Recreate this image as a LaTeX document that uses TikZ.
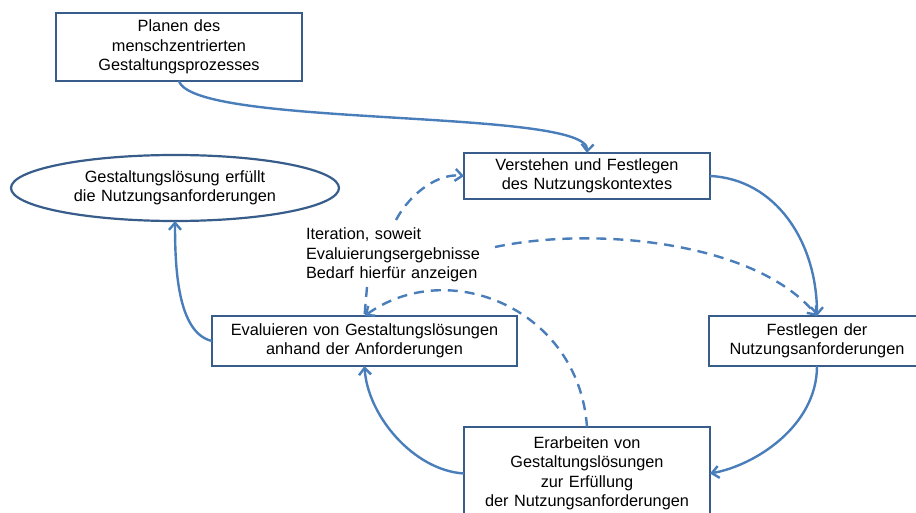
\documentclass[tikz,border=0pt]{standalone}
\usepackage{fontspec}
\setmainfont{Liberation Sans}
\usetikzlibrary{arrows.meta,shapes.geometric,calc}
\definecolor{boxline}{HTML}{385D8A}
\definecolor{arrowline}{HTML}{4A7EBB}
\newcommand\diagfont{\fontsize{16.3}{19.5}\selectfont\spaceskip=5.5pt plus 1pt\relax}
\begin{document}
\begin{tikzpicture}[x=1pt,y=-1pt,
  every node/.style={font=\diagfont, inner sep=0pt, outer sep=0pt},
  procbox/.style={draw=boxline, line width=2.2pt, fill=white, align=center},
  flow/.style={draw=arrowline, line width=2.4pt, -{Straight Barb[length=7pt,width=12pt]}},
  iterflow/.style={draw=arrowline, line width=2.4pt, dash pattern=on 10pt off 7pt},
  iterarrow/.style={iterflow, -{Straight Barb[length=7pt,width=12pt]}}]
\useasboundingbox (0,0) rectangle (916,513);

\node[procbox, minimum width=246pt, minimum height=68pt] (plan) at (179,47)
  {Planen des\\menschzentrierten\\Gestaltungsprozesses};
\node[procbox, minimum width=246pt, minimum height=46pt] (vers) at (587,176)
  {Verstehen und Festlegen\\des Nutzungskontextes};
\node[procbox, minimum width=216pt, minimum height=50pt] (fest) at (817,341)
  {Festlegen der\\Nutzungsanforderungen};
\node[procbox, minimum width=305pt, minimum height=50pt] (eval) at (364.5,341)
  {Evaluieren von Gestaltungslösungen\\anhand der Anforderungen};
\node[procbox, minimum width=246pt, minimum height=93pt] (erar) at (587,473.5)
  {Erarbeiten von\\Gestaltungslösungen\\zur Erfüllung\\der Nutzungsanforderungen};
\node[procbox, ellipse, minimum width=328pt, minimum height=66pt] (goal) at (175,188)
  {Gestaltungslösung erfüllt\\die Nutzungsanforderungen};
\node[align=left, anchor=north west] (iter) at (306,228)
  {Iteration, soweit\\Evaluierungsergebnisse\\Bedarf hierfür anzeigen};

\coordinate (iterTop) at (396,220);
\coordinate (iterRight) at (495,247);
\coordinate (iterBottom) at (367,287);

% main cycle
\draw[flow] (plan.south) .. controls +(15,47) and +(3,-45) .. (vers.north);
\draw[flow] (vers.east) .. controls +(65,3) and +(0,-75) .. (fest.north);
\draw[flow] (fest.south) .. controls +(0,60) and +(45,-8) .. (erar.east);
\draw[flow] (erar.west) .. controls +(-50,-3) and +(3,50) .. (eval.south);
\draw[flow] (eval.west) .. controls +(-35,-8) and +(0,45) .. (goal.south);

% iteration
\draw[iterarrow] (iterTop) .. controls +(15,-28) and +(-25,-3) .. (vers.west);
\draw[iterarrow] (iterRight) .. controls +(105,-22) and +(-58,-72) .. (fest.north);
\draw[iterflow] (iterBottom) -- (eval.north);
\draw[iterarrow] (erar.north) .. controls +(-8,-117) and +(85,-61) .. (eval.north);
\end{tikzpicture}
\end{document}
